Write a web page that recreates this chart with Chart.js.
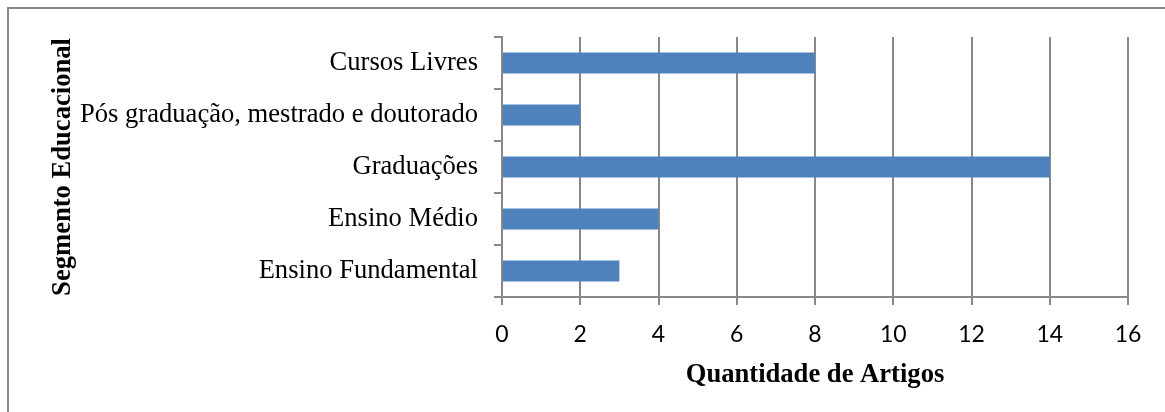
<!DOCTYPE html>
<html>
<head>
<meta charset="utf-8">
<script src="https://cdn.jsdelivr.net/npm/chart.js@4"></script>
<style>
  html, body { margin: 0; padding: 0; background: #fff; overflow: hidden; }
  #frame { position: absolute; left: 7px; top: 7px; width: 1250px; height: 500px; border: 2px solid #888; box-sizing: border-box; }
  #c { position: absolute; left: 0; top: 0; }
</style>
</head>
<body>
<div id="frame"></div>
<canvas id="c" width="1165" height="412"></canvas>
<script>
const categories = ["Cursos Livres", "Pós graduação, mestrado e doutorado", "Graduações", "Ensino Médio", "Ensino Fundamental"];
const values = [8, 2, 14, 4, 3];
const xTicks = [0, 2, 4, 6, 8, 10, 12, 14, 16];
const xTitle = "Quantidade de Artigos";
const yTitle = "Segmento Educacional";

const gridColor = '#888888';

new Chart(document.getElementById('c'), {
  type: 'bar',
  data: {
    labels: categories,
    datasets: [{
      data: values,
      backgroundColor: '#4F81BD',
      borderWidth: 0,
      barPercentage: 0.4,
      categoryPercentage: 1.0
    }]
  },
  options: {
    indexAxis: 'y',
    responsive: false,
    animation: false,
    devicePixelRatio: 1,
    layout: { padding: { left: 0, right: 37, top: 37, bottom: 0 } },
    plugins: { legend: { display: false }, tooltip: { enabled: false } },
    scales: {
      y: {
        type: 'category',
        offset: true,
        afterFit: (s) => { s.width = 502; },
        grid: { offset: true, drawOnChartArea: false, drawTicks: true, tickLength: 8, color: gridColor, lineWidth: 2 },
        border: { display: true, color: gridColor, width: 2 },
        ticks: { color: '#000', padding: 16, font: { family: 'Liberation Serif', size: 26.6 } },
        title: { display: true, text: yTitle, color: '#000', padding: { top: 47, bottom: 0 }, font: { family: 'Liberation Serif', size: 26.6, weight: 'bold' } }
      },
      x: {
        type: 'linear',
        min: 0, max: 16,
        afterFit: (s) => { s.height = 115; },
        afterBuildTicks: (s) => { s.ticks = xTicks.map(v => ({ value: v })); },
        grid: { drawOnChartArea: true, drawTicks: true, tickLength: 8, color: gridColor, lineWidth: 2 },
        border: { display: true, color: gridColor, width: 2 },
        ticks: { color: '#000', padding: 16, maxRotation: 0, font: { family: 'Lato', size: 23 } },
        title: { display: true, text: xTitle, color: '#000', padding: { top: 0, bottom: 21 }, font: { family: 'Liberation Serif', size: 26.6, weight: 'bold' } }
      }
    }
  }
});
</script>
</body>
</html>
